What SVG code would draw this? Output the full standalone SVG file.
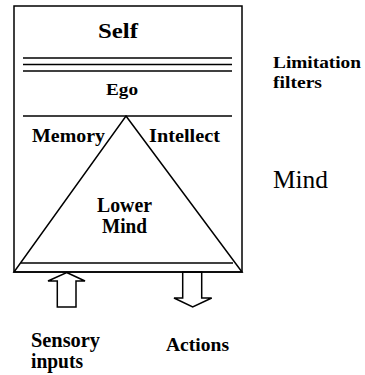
<svg xmlns="http://www.w3.org/2000/svg" width="365" height="375" viewBox="0 0 365 375">
<style>
.ln{stroke:#000;stroke-width:1.5;fill:none}
.b{font-weight:bold;fill:#000}
.r{fill:#000}
</style>
<rect width="365" height="375" fill="#fff"/>
<g id="mind-box">
<rect class="ln" x="14" y="6" width="228" height="266"/>
</g>
<g font-family="Liberation Serif, DejaVu Serif, serif">
<g id="self">
<text class="b" x="98" y="38" font-size="21" textLength="40" lengthAdjust="spacingAndGlyphs">Self</text>
</g>
<g id="limitation-lines">
<line class="ln" x1="23" y1="58" x2="232" y2="58"/>
<line class="ln" x1="23" y1="64.5" x2="232" y2="64.5"/>
<line class="ln" x1="23" y1="71" x2="232" y2="71"/>
</g>
<g id="ego">
<text class="b" x="106" y="95" font-size="17" textLength="32" lengthAdjust="spacingAndGlyphs">Ego</text>
<line class="ln" x1="23" y1="116" x2="232" y2="116"/>
</g>
<g id="lower-mind">
<polygon class="ln" points="126,116 242,272 14,272"/>
<line class="ln" x1="21" y1="263" x2="233" y2="263"/>
<text class="b" x="97" y="212" font-size="20" textLength="55" lengthAdjust="spacingAndGlyphs">Lower</text>
<text class="b" x="102" y="233" font-size="20" textLength="45" lengthAdjust="spacingAndGlyphs">Mind</text>
</g>
<g id="memory">
<text class="b" x="32" y="142" font-size="19" textLength="73" lengthAdjust="spacingAndGlyphs">Memory</text>
</g>
<g id="intellect">
<text class="b" x="149" y="142" font-size="19" textLength="71" lengthAdjust="spacingAndGlyphs">Intellect</text>
</g>
<g id="connectors">
<polygon class="ln" points="66.7,272.5 85,281 76,281 76,307 57.3,307 57.3,281 48,281" fill="#fff"/>
<polygon class="ln" points="182.7,272 201.7,272 201.7,298 211.7,298 192.7,307 174,298 182.7,298" fill="#fff"/>
</g>
<g id="sensory-inputs">
<text class="b" x="31" y="347" font-size="20" textLength="69" lengthAdjust="spacingAndGlyphs">Sensory</text>
<text class="b" x="31" y="368" font-size="20" textLength="52" lengthAdjust="spacingAndGlyphs">inputs</text>
</g>
<g id="actions">
<text class="b" x="166" y="351" font-size="19" textLength="63" lengthAdjust="spacingAndGlyphs">Actions</text>
</g>
<g id="limitation-filters">
<text class="b" x="273" y="68" font-size="17" textLength="88" lengthAdjust="spacingAndGlyphs">Limitation</text>
<text class="b" x="273" y="88" font-size="17" textLength="49" lengthAdjust="spacingAndGlyphs">filters</text>
</g>
<g id="mind-label">
<text class="r" x="273" y="188" font-size="26" textLength="55" lengthAdjust="spacingAndGlyphs">Mind</text>
</g>
</g>
</svg>
